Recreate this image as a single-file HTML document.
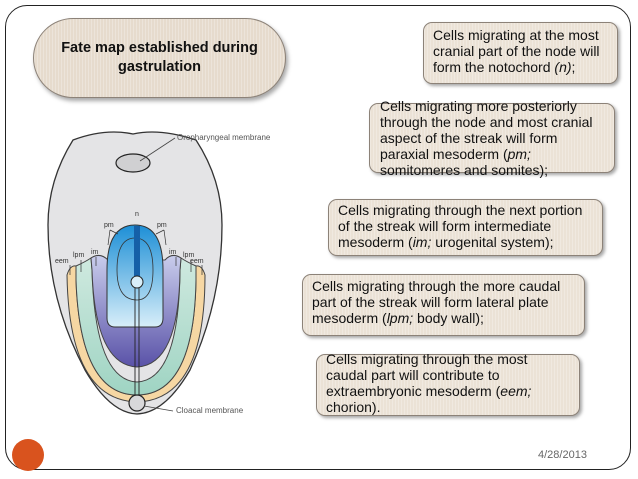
<!DOCTYPE html>
<html><head><meta charset="utf-8"><style>
body{margin:0;width:638px;height:479px;background:#fff;position:relative;overflow:hidden;font-family:"Liberation Sans",Arial,sans-serif}
.frame{position:absolute;left:5px;top:5px;width:626px;height:465px;border:1.5px solid #222;border-radius:22px;box-sizing:border-box}
.box{position:absolute;background:#ebe2d6;background-image:repeating-linear-gradient(90deg,rgba(255,255,255,0.25) 0 1px,transparent 1px 3px);border:1.3px solid #8c8278;border-radius:9px;box-shadow:2px 2px 3px rgba(0,0,0,0.35);box-sizing:border-box}
.t{position:absolute;font-size:14px;line-height:16px;color:#111;white-space:nowrap}
.title{position:absolute;left:33px;top:18px;width:253px;height:80px;border-radius:40px;background:#e6dbcd;background-image:repeating-linear-gradient(90deg,rgba(255,255,255,0.25) 0 1px,transparent 1px 3px);border:1.3px solid #8c8278;box-shadow:2px 3px 4px rgba(0,0,0,0.35);box-sizing:border-box;text-align:center;font-weight:bold;font-size:14.5px;line-height:19px;padding-top:20px;color:#111}
</style></head><body>
<div class="frame"></div>
<div class="title">Fate map established during<br>gastrulation</div>

<div class="box" style="left:423px;top:22px;width:195px;height:62px"></div>
<div class="t" style="left:433px;top:27px">Cells migrating at the most<br>cranial part of the node will<br>form the notochord <i>(n)</i>;</div>

<div class="box" style="left:369px;top:103px;width:246px;height:70px"></div>
<div class="t" style="left:380px;top:98px">Cells migrating more posteriorly<br>through the node and most cranial<br>aspect of the streak will form<br>paraxial mesoderm (<i>pm;</i><br>somitomeres and somites);</div>

<div class="box" style="left:328px;top:199px;width:275px;height:57px"></div>
<div class="t" style="left:338px;top:202px">Cells migrating through the next portion<br>of the streak will form intermediate<br>mesoderm (<i>im;</i> urogenital system);</div>

<div class="box" style="left:302px;top:274px;width:283px;height:62px"></div>
<div class="t" style="left:312px;top:278px">Cells migrating through the more caudal<br>part of the streak will form lateral plate<br>mesoderm (<i>lpm;</i> body wall);</div>

<div class="box" style="left:316px;top:354px;width:264px;height:62px"></div>
<div class="t" style="left:326px;top:351px">Cells migrating through the most<br>caudal part will contribute to<br>extraembryonic mesoderm (<i>eem;</i><br>chorion).</div>

<div style="position:absolute;left:12px;top:439px;width:32px;height:32px;border-radius:50%;background:#d9531e"></div>
<div style="position:absolute;left:538px;top:449px;font-size:11px;color:#666">4/28/2013</div>

<svg style="position:absolute;left:0;top:0" width="638" height="479" font-family="Liberation Sans,Arial,sans-serif">
<defs>
<linearGradient id="bl" x1="0" y1="0" x2="0" y2="1"><stop offset="0" stop-color="#1d8fd6"/><stop offset="1" stop-color="#d8eef9"/></linearGradient>
<linearGradient id="pu" x1="0" y1="0" x2="0" y2="1"><stop offset="0" stop-color="#c9cdec"/><stop offset="1" stop-color="#5a52a8"/></linearGradient>
<linearGradient id="gr" x1="0" y1="0" x2="0" y2="1"><stop offset="0" stop-color="#cfe9df"/><stop offset="1" stop-color="#9fd4c3"/></linearGradient>
<clipPath id="bodyc"><path d="M73,140 Q105,128 133,134 Q160,128 196,140 Q222,180 222,225 Q222,300 190,370 Q165,413 137,414 Q110,413 85,370 Q48,300 48,225 Q48,180 73,140 Z"/></clipPath>
</defs>
<path d="M73,140 Q105,128 133,134 Q160,128 196,140 Q222,180 222,225 Q222,300 190,370 Q165,413 137,414 Q110,413 85,370 Q48,300 48,225 Q48,180 73,140 Z" fill="#e4e4e6"/>
<path clip-path="url(#bodyc)" d="M55,300 Q76,372 100,395 Q118,413 137,413 Q156,413 174,395 Q198,372 218,300 L230,430 L40,430Z" fill="#c4c4c7"/>
<path d="M73,140 Q105,128 133,134 Q160,128 196,140 Q222,180 222,225 Q222,300 190,370 Q165,413 137,414 Q110,413 85,370 Q48,300 48,225 Q48,180 73,140 Z" fill="none" stroke="#333" stroke-width="1.3"/>
<path d="M67,275 Q70,265 76,266 L76,280 Q80,395 137,395 Q194,395 196,280 L196,266 Q202,265 205,275 Q205,400 137,402 Q69,400 67,275Z" fill="#f6d7a3" stroke="#444" stroke-width="1"/>
<path d="M76,266 Q85,262 91,258 L92,270 Q95,380 137,382 Q179,380 180,270 L181,258 Q187,262 196,266 L196,280 Q194,395 137,395 Q80,395 76,280Z" fill="url(#gr)" stroke="#444" stroke-width="1"/>
<path d="M91,258 Q100,252 108,260 L165,260 Q172,252 181,258 L180,270 Q179,365 137,367 Q95,365 92,270Z" fill="url(#pu)" stroke="#444" stroke-width="1"/>
<path d="M107,270 Q107,225 135,225 Q163,225 163,270 L163,318 Q163,327 155,327 L115,327 Q107,327 107,318Z" fill="url(#bl)" stroke="#333" stroke-width="1"/>
<path d="M117,270 Q117,238 135,238 Q153,238 153,270 Q153,300 137,300 Q117,300 117,270Z" fill="none" stroke="#333" stroke-width="0.8"/>
<rect x="134" y="226" width="6" height="50" fill="#1560a8"/>
<circle cx="137" cy="282" r="6" fill="#d8eef9" stroke="#222" stroke-width="1"/>
<line x1="135" y1="288" x2="135" y2="397" stroke="#222" stroke-width="0.9"/>
<line x1="139" y1="288" x2="139" y2="397" stroke="#222" stroke-width="0.9"/>
<ellipse cx="133" cy="163" rx="17" ry="9" fill="#d0d0d2" stroke="#222" stroke-width="1.2"/>
<line x1="140" y1="161" x2="175" y2="138" stroke="#444" stroke-width="0.8"/>
<text x="177" y="140" font-size="8" fill="#555">Oropharyngeal membrane</text>
<circle cx="137" cy="403" r="8" fill="#d8d8da" stroke="#222" stroke-width="1.2"/>
<line x1="144" y1="406" x2="173" y2="411" stroke="#444" stroke-width="0.8"/>
<text x="176" y="413" font-size="8" fill="#555">Cloacal membrane</text>
<g font-size="7" fill="#333">
<text x="135" y="216">n</text>
<text x="104" y="227">pm</text><text x="157" y="227">pm</text>
<text x="91" y="254">im</text><text x="169" y="254">im</text>
<text x="73" y="257">lpm</text><text x="183" y="257">lpm</text>
<text x="55" y="263">eem</text><text x="190" y="263">eem</text>
</g>
<g stroke="#333" stroke-width="0.7" fill="none">
<path d="M110,230 L108,245 M110,230 L118,234"/><path d="M164,230 L166,245 M164,230 L156,234"/>
<line x1="96" y1="257" x2="96" y2="266"/><line x1="176" y1="257" x2="176" y2="266"/>
<line x1="81" y1="260" x2="81" y2="272"/><line x1="191" y1="260" x2="191" y2="272"/>
<line x1="70" y1="265" x2="70" y2="275"/><line x1="202" y1="265" x2="202" y2="275"/>
</g>
</svg>
</body></html>
